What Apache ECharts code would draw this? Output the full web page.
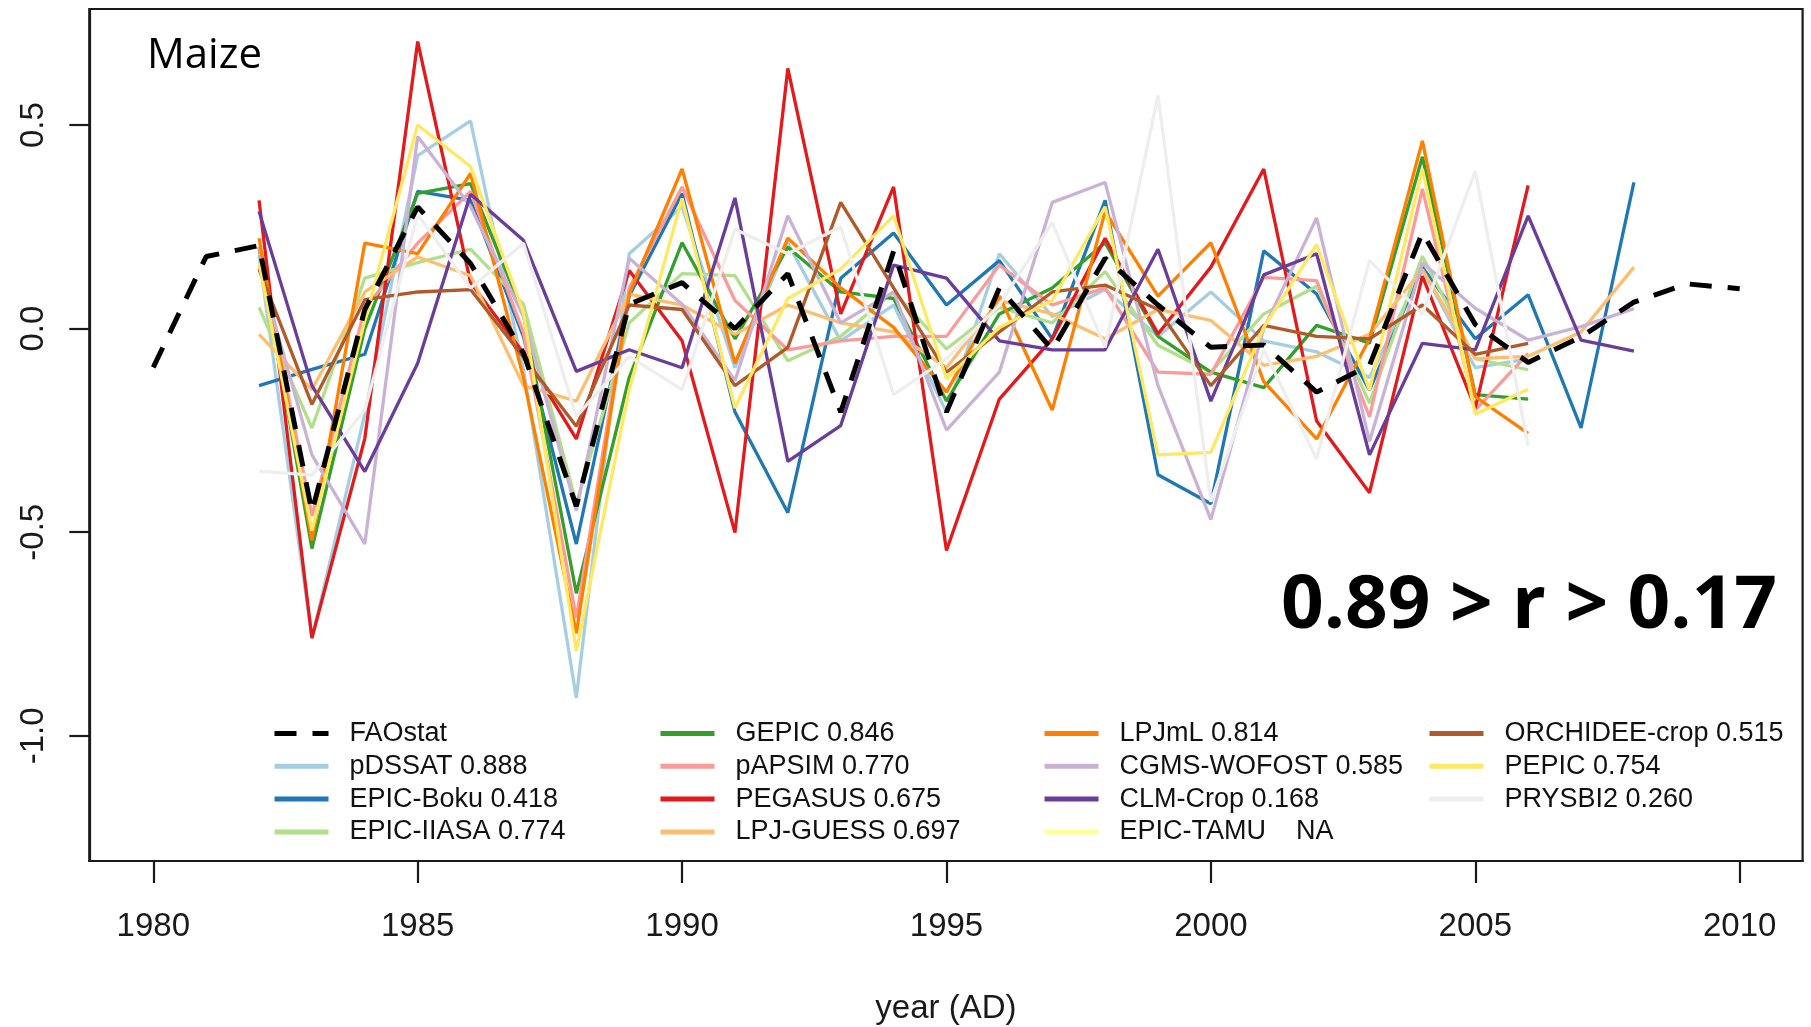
<!DOCTYPE html>
<html>
<head>
<meta charset="utf-8">
<title>Maize yield anomalies</title>
<script src="https://cdn.jsdelivr.net/npm/echarts@6/dist/echarts.min.js"></script>
<style>
  html, body { margin: 0; padding: 0; background: #ffffff; }
  #chart { width: 1811px; height: 1027px; }
</style>
</head>
<body>
<div id="chart"></div>
<script>
// Detrended maize yield anomalies: FAO statistics vs. crop models
const faoYears = [1980, 1981, 1982, 1983, 1984, 1985, 1986, 1987, 1988, 1989, 1990,
  1991, 1992, 1993, 1994, 1995, 1996, 1997, 1998, 1999, 2000,
  2001, 2002, 2003, 2004, 2005, 2006, 2007, 2008, 2009, 2010];
const faostat = [-0.095, 0.177, 0.204, -0.45, 0.047, 0.299, 0.16, -0.06, -0.436, 0.06, 0.113,
  0.0, 0.135, -0.205, 0.19, -0.205, 0.1, -0.052, 0.173, 0.058, -0.046,
  -0.04, -0.156, -0.09, 0.236, 0.01, -0.083, -0.02, 0.065, 0.11, 0.098];

// model years 1982-2008 (null = no simulation)
const modelYears = [1982, 1983, 1984, 1985, 1986, 1987, 1988, 1989, 1990,
  1991, 1992, 1993, 1994, 1995, 1996, 1997, 1998, 1999, 2000,
  2001, 2002, 2003, 2004, 2005, 2006, 2007, 2008];
const pDSSAT = [0.18, -0.76, -0.21, 0.425, 0.51, -0.1, -0.907, 0.184, 0.3, -0.096, 0.21, -0.03, 0.058, -0.205, 0.184, 0.03, 0.096, -0.019, 0.09, -0.03, -0.057, -0.12, 0.145, -0.096, -0.074, null, null];
const epicBoku = [-0.14, -0.10, -0.063, 0.337, 0.315, -0.02, -0.529, 0.08, 0.332, -0.205, -0.452, 0.124, 0.235, 0.058, 0.167, -0.025, 0.315, -0.359, -0.43, 0.191, 0.085, -0.151, 0.151, -0.025, 0.083, -0.244, 0.359];
const epicIIASA = [0.052, -0.244, 0.124, 0.162, 0.195, 0.06, -0.43, 0.014, 0.135, 0.13, -0.079, -0.019, 0.09, -0.05, 0.052, 0.014, 0.14, -0.041, -0.107, 0.036, 0.104, -0.183, 0.178, -0.074, -0.101, null, null];
const gepic = [0.2, -0.54, 0.0, 0.332, 0.356, 0.035, -0.65, -0.12, 0.211, -0.025, 0.2, 0.09, 0.074, -0.178, 0.036, 0.1, 0.211, -0.019, -0.107, -0.145, 0.008, -0.036, 0.422, -0.162, -0.173, null, null];
const pAPSIM = [0.2, -0.46, 0.05, 0.21, 0.337, -0.01, -0.71, 0.1, 0.348, 0.069, -0.052, -0.03, -0.019, -0.019, 0.156, 0.058, 0.1, -0.107, -0.112, 0.126, 0.118, -0.217, 0.343, -0.2, -0.061, null, null];
const pegasus = [0.315, -0.76, -0.27, 0.705, 0.113, -0.06, -0.271, 0.143, -0.03, -0.501, 0.639, 0.036, 0.348, -0.545, -0.173, -0.025, 0.222, -0.013, 0.151, 0.392, -0.227, -0.403, 0.129, -0.195, 0.352, null, null];
const lpjGuess = [-0.014, -0.15, 0.09, 0.176, 0.13, -0.14, -0.178, 0.085, 0.058, -0.014, 0.058, 0.014, -0.008, -0.096, 0.069, 0.036, -0.025, 0.047, 0.02, -0.09, -0.068, -0.014, 0.145, -0.074, -0.068, -0.008, 0.151];
const lpjml = [0.222, -0.52, 0.21, 0.184, 0.381, -0.12, -0.748, 0.085, 0.392, -0.085, 0.222, 0.1, 0.003, -0.156, 0.08, -0.2, 0.288, 0.08, 0.211, -0.13, -0.271, -0.025, 0.461, -0.167, -0.257, null, null];
const cgmsWofost = [0.15, -0.31, -0.529, 0.472, 0.3, 0.03, -0.447, 0.173, 0.06, -0.128, 0.277, 0.014, 0.09, -0.249, -0.107, 0.31, 0.359, -0.14, -0.469, 0.0, 0.272, -0.277, 0.162, 0.05, -0.028, 0.005, 0.049];
const clmCrop = [0.288, -0.14, -0.351, -0.085, 0.33, 0.217, -0.105, -0.052, -0.096, 0.321, -0.326, -0.238, 0.156, 0.124, -0.03, -0.052, -0.052, 0.195, -0.178, 0.132, 0.184, -0.31, -0.036, -0.052, 0.277, -0.028, -0.055];
const epicTamu = [null, null, null, null, null, null, null, null, null, null, null, null, null, null, null, null, null, null, null, null, null, null, null, null, null, null, null];
const orchidee = [0.146, -0.186, 0.071, 0.09, 0.096, -0.07, -0.24, 0.058, 0.047, -0.14, -0.046, 0.31, 0.1, -0.107, -0.008, 0.09, 0.107, 0.047, -0.14, 0.008, -0.019, -0.025, 0.058, -0.063, -0.036, null, null];
const pepic = [0.162, -0.496, 0.02, 0.50, 0.398, 0.04, -0.792, -0.15, 0.32, -0.195, 0.074, 0.146, 0.277, -0.123, 0.003, 0.069, 0.299, -0.31, -0.304, 0.003, 0.206, -0.151, 0.392, -0.21, -0.149, null, null];
const prysbi2 = [-0.35, -0.36, -0.2, 0.28, 0.1, 0.21, -0.216, -0.068, -0.15, 0.244, 0.184, 0.25, -0.162, -0.074, 0.058, 0.26, -0.046, 0.573, -0.425, -0.052, -0.32, 0.167, 0.036, 0.387, -0.288, null, null];

const xTicks = [1980, 1985, 1990, 1995, 2000, 2005, 2010];
const yTicks = [-1.0, -0.5, 0.0, 0.5];

// name (with correlation to FAOstat), values, colour
const models = [
  ['pDSSAT 0.888', pDSSAT, '#a6cee3'],
  ['EPIC-Boku 0.418', epicBoku, '#1f78b4'],
  ['EPIC-IIASA 0.774', epicIIASA, '#b2df8a'],
  ['GEPIC 0.846', gepic, '#33a02c'],
  ['pAPSIM 0.770', pAPSIM, '#fb9a99'],
  ['PEGASUS 0.675', pegasus, '#e31a1c'],
  ['LPJ-GUESS 0.697', lpjGuess, '#fdbf6f'],
  ['LPJmL 0.814', lpjml, '#ff7f00'],
  ['CGMS-WOFOST 0.585', cgmsWofost, '#cab2d6'],
  ['CLM-Crop 0.168', clmCrop, '#6a3d9a'],
  ['EPIC-TAMU    NA', epicTamu, '#ffff99'],
  ['ORCHIDEE-crop 0.515', orchidee, '#b15928'],
  ['PEPIC 0.754', pepic, '#ffe862'],
  ['PRYSBI2 0.260', prysbi2, '#eeeeee']
];

const legendColumns = [
  ['FAOstat', 'pDSSAT 0.888', 'EPIC-Boku 0.418', 'EPIC-IIASA 0.774'],
  ['GEPIC 0.846', 'pAPSIM 0.770', 'PEGASUS 0.675', 'LPJ-GUESS 0.697'],
  ['LPJmL 0.814', 'CGMS-WOFOST 0.585', 'CLM-Crop 0.168', 'EPIC-TAMU    NA'],
  ['ORCHIDEE-crop 0.515', 'PEPIC 0.754', 'PRYSBI2 0.260']
];
const legendLeft = [272, 658, 1042, 1427];

function pairs(xs, ys) {
  const out = [];
  xs.forEach((x, i) => { if (ys[i] !== null) out.push([x, ys[i]]); });
  return out;
}

const AXIS = '#1a1a1a';
const FONT = '"Liberation Sans", Arial, sans-serif';

const series = models.map(([name, vals, color], i) => ({
  name: name,
  type: 'line',
  data: pairs(modelYears, vals),
  symbol: 'none',
  showSymbol: false,
  lineStyle: { color: color, width: 3.3 },
  itemStyle: { color: color },
  emphasis: { disabled: true },
  z: 2 + i * 0.01
}));
series.push({
  name: 'FAOstat',
  type: 'line',
  data: pairs(faoYears, faostat),
  symbol: 'none',
  showSymbol: false,
  lineStyle: { color: '#000000', width: 5, type: [22, 16] },
  itemStyle: { color: '#000000' },
  emphasis: { disabled: true },
  z: 3
});

const chart = echarts.init(document.getElementById('chart'), null, { renderer: 'canvas' });
chart.setOption({
  animation: false,
  backgroundColor: '#ffffff',
  grid: {
    left: 89.3, right: 8.4, top: 9, bottom: 166,
    outerBoundsMode: 'none', containLabel: false,
    show: true, borderColor: AXIS, borderWidth: 2.2, backgroundColor: 'transparent'
  },
  xAxis: {
    type: 'value',
    min: 1978.79, max: 2011.19,
    splitLine: { show: false },
    axisLine: { show: true, onZero: false, lineStyle: { color: AXIS, width: 2.2 } },
    axisTick: { show: true, length: 22, customValues: xTicks, lineStyle: { color: AXIS, width: 2.2 } },
    axisLabel: {
      customValues: xTicks, margin: 49,
      fontSize: 33, fontFamily: FONT, color: AXIS,
      formatter: v => String(v)
    },
    name: 'year (AD)',
    nameLocation: 'middle',
    nameGap: 131,
    nameTextStyle: { fontSize: 33, fontFamily: FONT, color: AXIS }
  },
  yAxis: {
    type: 'value',
    min: -1.3075, max: 0.785,
    splitLine: { show: false },
    axisLine: { show: true, onZero: false, lineStyle: { color: AXIS, width: 2.2 } },
    axisTick: { show: true, length: 20, customValues: yTicks, lineStyle: { color: AXIS, width: 2.2 } },
    axisLabel: {
      customValues: yTicks, rotate: 90, margin: 39,
      fontSize: 33, fontFamily: FONT, color: AXIS,
      formatter: v => v.toFixed(1)
    }
  },
  legend: legendColumns.map((names, c) => ({
    data: names,
    orient: 'vertical',
    left: legendLeft[c],
    top: 720,
    itemWidth: 54,
    itemHeight: 27,
    itemGap: 5.8,
    padding: 0,
    selectedMode: false,
    itemStyle: { opacity: 0 },
    lineStyle: { width: 5 },
    textStyle: { fontSize: 27, fontFamily: FONT, color: '#111111', lineHeight: 27, padding: [0, 0, 0, 16] }
  })),
  graphic: [
    {
      type: 'text', x: 147, y: 56, silent: true,
      style: {
        text: 'Maize', font: '42px "Open Sans", "Noto Sans", sans-serif', fill: '#000000',
        textAlign: 'left', textVerticalAlign: 'middle', align: 'left', verticalAlign: 'middle'
      }
    },
    {
      type: 'text', x: 1281, y: 607, scaleX: 1.01, silent: true,
      style: {
        text: '0.89 > r > 0.17', font: 'bold 74px "Open Sans", "Noto Sans", sans-serif', fill: '#000000',
        textAlign: 'left', textVerticalAlign: 'middle', align: 'left', verticalAlign: 'middle'
      }
    }
  ],
  series: series
});
</script>
</body>
</html>
